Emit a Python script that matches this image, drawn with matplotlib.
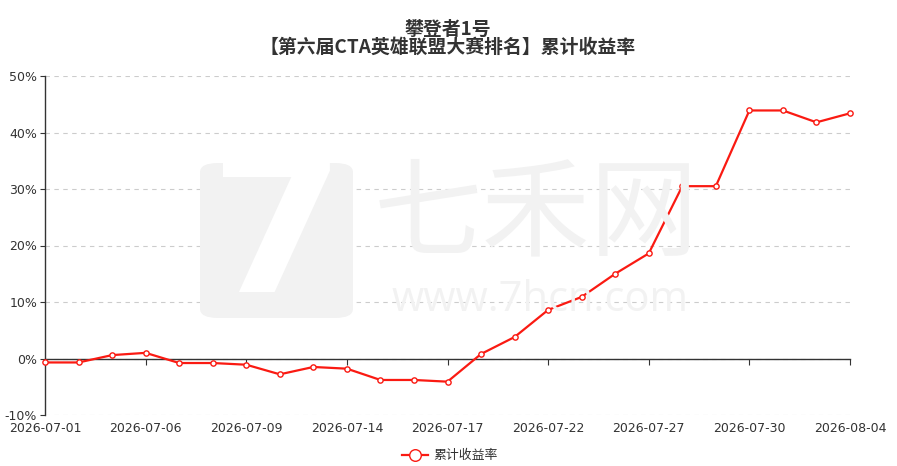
import matplotlib
matplotlib.use("Agg")
import matplotlib.pyplot as plt
from matplotlib.patches import FancyBboxPatch
from matplotlib.ticker import FuncFormatter, FixedLocator

plt.rcParams['font.family'] = ['Noto Sans CJK SC', 'DejaVu Sans']

dates = ["2026-07-01", "2026-07-02", "2026-07-03", "2026-07-06", "2026-07-07",
         "2026-07-08", "2026-07-09", "2026-07-10", "2026-07-13", "2026-07-14",
         "2026-07-15", "2026-07-16", "2026-07-17", "2026-07-20", "2026-07-21",
         "2026-07-22", "2026-07-23", "2026-07-24", "2026-07-27", "2026-07-28",
         "2026-07-29", "2026-07-30", "2026-07-31", "2026-08-03", "2026-08-04"]
returns = [-0.7, -0.7, 0.6, 1.0, -0.8, -0.8, -1.1, -2.8, -1.5, -1.8,
           -3.8, -3.8, -4.1, 0.8, 3.8, 8.6, 10.9, 15.0, 18.6, 30.5,
           30.5, 43.9, 43.9, 41.8, 43.4]
y_ticks = [-10, 0, 10, 20, 30, 40, 50]
series_name = "累计收益率"
title_lines = ["攀登者1号", "【第六届CTA英雄联盟大赛排名】累计收益率"]

W, H = 897, 466
fig = plt.figure(figsize=(W / 100, H / 100), dpi=100)

# watermark
wm = "#f2f2f2"
fig.patches.append(FancyBboxPatch((200 / W, 1 - 318 / H), 153 / W, 155 / H,
                                  boxstyle="round,pad=0,rounding_size=0.02",
                                  transform=fig.transFigure, fc=wm, ec="none", zorder=0))
fig.text(278 / W, 1 - 238 / H, "7", fontsize=140, fontweight="bold", color="white",
         ha="center", va="center", family="DejaVu Sans", zorder=0.1)
fig.text(536 / W, 1 - 217 / H, "七禾网", fontsize=78, color=wm, ha="center", va="center", zorder=0.1)
fig.text(540 / W, 1 - 300 / H, "www.7hcn.com", fontsize=30, color=wm, ha="center", va="center",
         family="Open Sans", zorder=0.1)

left, right = 45 / W, 850 / W
bottom, top = 1 - 415 / H, 1 - 76 / H
ax = fig.add_axes([left, bottom, right - left, top - bottom])
ax.patch.set_alpha(0)

x = list(range(len(dates)))
ax.plot(x, returns, color="#fa1a12", lw=1.6, marker="o", ms=3.8,
        mfc="white", mec="#fa1a12", mew=1.0, zorder=5, label=series_name, clip_on=False)

ax.set_xlim(0, len(dates) - 1)
ax.set_ylim(-10, 50)
ax.set_yticks(y_ticks)
ax.yaxis.set_major_formatter(FuncFormatter(lambda v, p: f"{int(v)}%"))
ax.grid(axis="y", color="#cccccc", ls=(0, (4, 4)), lw=0.8)
ax.set_axisbelow(True)

for s in ["top", "right"]:
    ax.spines[s].set_visible(False)
ax.spines["left"].set_color("#333333")
ax.spines["left"].set_linewidth(1)
ax.spines["bottom"].set_position(("data", 0))
ax.spines["bottom"].set_color("#333333")
ax.spines["bottom"].set_linewidth(1)

tick_idx = list(range(0, len(dates), 3))
ax.xaxis.set_major_locator(FixedLocator(tick_idx))
ax.tick_params(axis="x", direction="out", length=4, color="#333333", labelbottom=False)
ax.tick_params(axis="y", direction="out", length=3.6, color="#333333",
               labelsize=9, labelcolor="#333333", pad=2)
for lbl in ax.get_yticklabels():
    lbl.set_family("DejaVu Sans")

sec = ax.secondary_xaxis(0.0)
sec.set_xticks(tick_idx)
sec.set_xticklabels([dates[i] for i in tick_idx], family="DejaVu Sans")
sec.tick_params(length=0, labelsize=9, labelcolor="#333333", pad=5)
sec.spines["bottom"].set_visible(False)

fig.text(448 / W, 1 - 29.5 / H, title_lines[0], ha="center", va="center",
         fontsize=13.6, fontweight="bold", color="#333333")
fig.text(448 / W, 1 - 47.5 / H, title_lines[1], ha="center", va="center",
         fontsize=13.6, fontweight="bold", color="#333333")

leg = fig.legend(loc="center", bbox_to_anchor=(450 / W, 1 - 456 / H), frameon=False,
                 fontsize=9.3, handlelength=2.0, markerscale=2.2, labelcolor="#333333",
                 handletextpad=0.4)

fig.savefig("out.png", dpi=100)
